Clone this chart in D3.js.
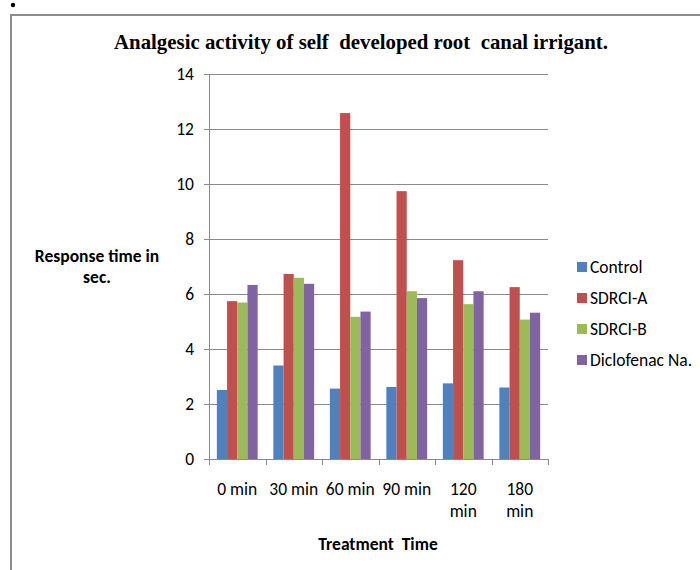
<!DOCTYPE html>
<html>
<head>
<meta charset="utf-8">
<script src="https://cdn.jsdelivr.net/npm/d3@7"></script>
<style>
  body { margin: 0; background: #fff; }
  text { white-space: pre; }
</style>
</head>
<body>
<div id="chart"></div>
<script>
// Data
const categories = ["0 min", "30 min", "60 min", "90 min", "120 min", "180 min"];
const seriesNames = ["Control", "SDRCI-A", "SDRCI-B", "Diclofenac Na."];
const control   = [2.51, 3.40, 2.56, 2.62, 2.75, 2.60];
const sdrciA    = [5.74, 6.73, 12.58, 9.74, 7.23, 6.25];
const sdrciB    = [5.69, 6.59, 5.17, 6.10, 5.63, 5.07];
const diclofen  = [6.33, 6.37, 5.36, 5.85, 6.10, 5.32];
const yTicks = [0, 2, 4, 6, 8, 10, 12, 14];

const seriesValues = [control, sdrciA, sdrciB, diclofen];
const colors = ["#4F81BD", "#C0504D", "#9BBB59", "#8064A2"];

const width = 700, height = 570;
const plot = { left: 209, right: 548, top: 74, bottom: 459 };
const labelFont = "Carlito, 'Open Sans', 'Noto Sans', sans-serif";
const fs = "17.5px";

const svg = d3.select("#chart").append("svg")
    .attr("width", width)
    .attr("height", height);

// frame + stray bullet from the source document
svg.append("circle").attr("cx", 13).attr("cy", 5).attr("r", 2.2).attr("fill", "#000");
svg.append("path")
    .attr("d", `M11,${height} L11,15 L${width},15`)
    .attr("fill", "none")
    .attr("stroke", "#8c8c8c")
    .attr("stroke-width", 2);

const x0 = d3.scaleBand()
    .domain(categories)
    .range([plot.left, plot.right])
    .paddingInner(0)
    .paddingOuter(0);

const x1 = d3.scaleBand()
    .domain(seriesNames)
    .range([0, x0.bandwidth()])
    .paddingInner(0)
    .paddingOuter(0.77);

const y = d3.scaleLinear()
    .domain([0, 14])
    .range([plot.bottom, plot.top]);

// gridlines
svg.append("g")
    .selectAll("line")
    .data(yTicks)
    .join("line")
    .attr("x1", plot.left - 5)
    .attr("x2", plot.right)
    .attr("y1", d => Math.round(y(d)) + 0.5)
    .attr("y2", d => Math.round(y(d)) + 0.5)
    .attr("stroke", "#8a8a8a")
    .attr("stroke-width", 1);

// y tick labels
svg.append("g")
    .selectAll("text")
    .data(yTicks)
    .join("text")
    .attr("x", 194)
    .attr("y", d => y(d) + 6)
    .attr("text-anchor", "end")
    .style("font-family", labelFont)
    .style("font-size", fs)
    .style("fill", "#000")
    .text(d => d);

// bars
const groups = svg.append("g")
    .selectAll("g")
    .data(categories)
    .join("g")
    .attr("transform", d => `translate(${x0(d)},0)`);

groups.selectAll("rect")
    .data((d, i) => seriesNames.map((s, j) => ({ s, v: seriesValues[j][i], j })))
    .join("rect")
    .attr("x", d => x1(d.s))
    .attr("width", x1.bandwidth())
    .attr("y", d => y(d.v))
    .attr("height", d => y(0) - y(d.v))
    .attr("fill", d => colors[d.j]);

// axes lines
svg.append("line")
    .attr("x1", plot.left + 0.5).attr("x2", plot.left + 0.5)
    .attr("y1", plot.top).attr("y2", plot.bottom + 5)
    .attr("stroke", "#8a8a8a");
svg.append("line")
    .attr("x1", plot.left).attr("x2", plot.right)
    .attr("y1", Math.round(y(0)) + 0.5).attr("y2", Math.round(y(0)) + 0.5)
    .attr("stroke", "#8a8a8a");

// x tick marks at category boundaries
const boundaries = categories.map(c => x0(c)).concat([plot.right]);
svg.append("g")
    .selectAll("line")
    .data(boundaries)
    .join("line")
    .attr("x1", d => Math.round(d) + 0.5)
    .attr("x2", d => Math.round(d) + 0.5)
    .attr("y1", plot.bottom)
    .attr("y2", plot.bottom + 6)
    .attr("stroke", "#8a8a8a");

// x category labels (wrap long ones onto two lines)
const xl = svg.append("g")
    .selectAll("text")
    .data(categories)
    .join("text")
    .attr("x", d => x0(d) + x0.bandwidth() / 2)
    .attr("y", 495)
    .attr("text-anchor", "middle")
    .style("font-family", labelFont)
    .style("font-size", fs)
    .style("fill", "#000");

xl.each(function(d) {
    const t = d3.select(this);
    const parts = d.split(" ");
    if (parts[0].length >= 3) {
        parts.forEach((p, i) => {
            t.append("tspan")
                .attr("x", x0(d) + x0.bandwidth() / 2)
                .attr("dy", i === 0 ? 0 : 22)
                .text(p);
        });
    } else {
        t.text(d);
    }
});

// axis titles
svg.append("text")
    .attr("x", 378)
    .attr("y", 550)
    .attr("text-anchor", "middle")
    .style("font-family", labelFont)
    .style("font-size", fs)
    .style("font-weight", "bold")
    .text("Treatment  Time");

const yt = svg.append("text")
    .attr("text-anchor", "middle")
    .style("font-family", labelFont)
    .style("font-size", fs)
    .style("font-weight", "bold");
yt.append("tspan").attr("x", 97).attr("y", 262).text("Response time in");
yt.append("tspan").attr("x", 97).attr("y", 283).text("sec.");

// title
svg.append("text")
    .attr("x", 361)
    .attr("y", 49)
    .attr("text-anchor", "middle")
    .attr("textLength", 494)
    .attr("lengthAdjust", "spacingAndGlyphs")
    .style("font-family", "'Liberation Serif', 'Times New Roman', serif")
    .style("font-size", "21px")
    .style("font-weight", "bold")
    .text("Analgesic activity of self  developed root  canal irrigant.");

// legend
const legend = svg.append("g")
    .selectAll("g")
    .data(seriesNames)
    .join("g")
    .attr("transform", (d, i) => `translate(577, ${267 + i * 31})`);

legend.append("rect")
    .attr("x", 0)
    .attr("y", -5)
    .attr("width", 10)
    .attr("height", 10)
    .attr("fill", (d, i) => colors[i]);

legend.append("text")
    .attr("x", 13)
    .attr("y", 6)
    .style("font-family", labelFont)
    .style("font-size", fs)
    .text(d => d);
</script>
</body>
</html>
